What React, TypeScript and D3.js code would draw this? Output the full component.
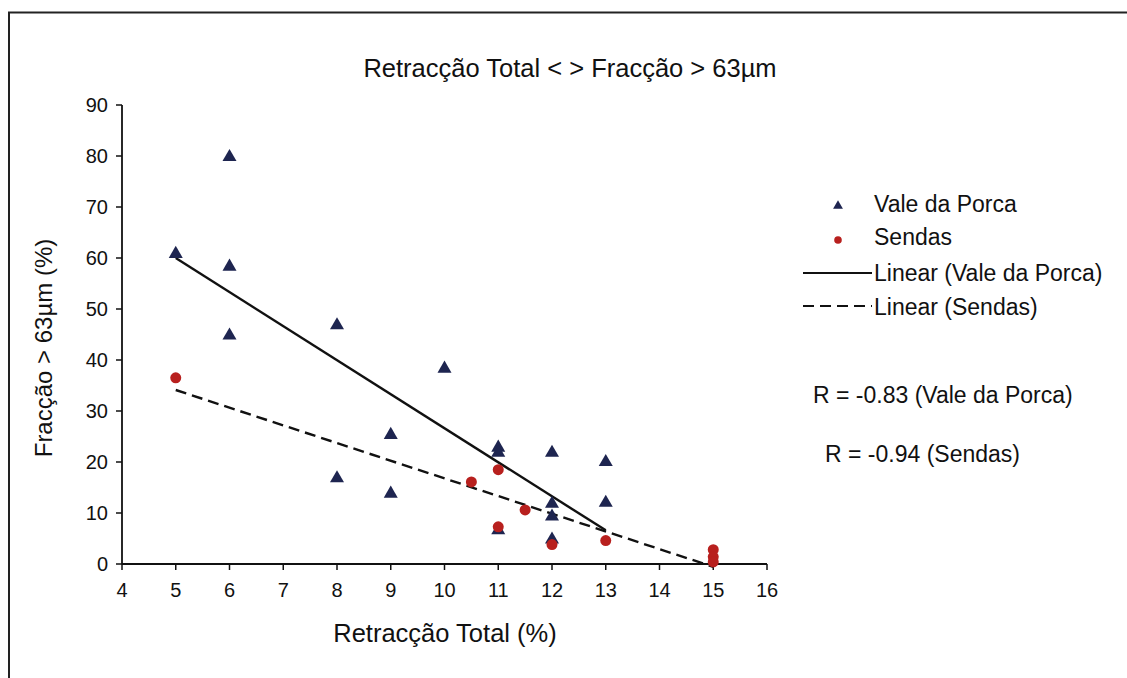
import { useMemo } from 'react';
import * as d3 from 'd3';

const WIDTH = 1127;
const HEIGHT = 678;
const MARGIN = { top: 105, left: 122 };

// Vale da Porca (triangles)
const valeX = [5, 6, 6, 6, 8, 8, 9, 9, 10, 11, 11, 11, 12, 12, 12, 12, 13, 13];
const valeY = [61, 80, 58.5, 45, 47, 17, 25.5, 14, 38.5, 23, 22, 6.8, 22, 12, 9.5, 5, 20.2, 12.2];

// Sendas (circles)
const sendasX = [5, 10.5, 11, 11, 11.5, 12, 13, 15, 15, 15];
const sendasY = [36.5, 16.1, 18.5, 7.3, 10.6, 3.8, 4.6, 2.8, 1.4, 0.4];

const xTicks = [4, 5, 6, 7, 8, 9, 10, 11, 12, 13, 14, 15, 16];
const yTicks = [0, 10, 20, 30, 40, 50, 60, 70, 80, 90];

const TITLE = 'Retracção Total < > Fracção > 63µm';
const X_LABEL = 'Retracção Total (%)';
const Y_LABEL = 'Fracção > 63µm (%)';
const legendLabels = ['Vale da Porca', 'Sendas', 'Linear (Vale da Porca)', 'Linear (Sendas)'];
const rLabels = ['R = -0.83 (Vale da Porca)', 'R = -0.94 (Sendas)'];

const NAVY = '#1e2550';
const RED = '#b8201e';
const FONT = 'Liberation Sans, Arial, sans-serif';

// least squares fit, returns the two end points of the trend line
const fitLine = (xs: number[], ys: number[]) => {
  const mx = d3.mean(xs) || 0;
  const my = d3.mean(ys) || 0;
  const sxy = d3.sum(xs, (x, i) => (x - mx) * (ys[i] - my));
  const sxx = d3.sum(xs, (x) => (x - mx) ** 2);
  const slope = sxy / sxx;
  const [x0, x1] = d3.extent(xs) as [number, number];
  return [
    { x: x0, y: my + slope * (x0 - mx) },
    { x: x1, y: my + slope * (x1 - mx) },
  ];
};

export default function App() {
  const xScale = useMemo(() => d3.scaleLinear().domain([4, 16]).range([0, 645]), []);
  const yScale = useMemo(() => d3.scaleLinear().domain([0, 90]).range([459, 0]), []);

  const lineBuilder = d3
    .line<{ x: number; y: number }>()
    .x((d) => xScale(d.x))
    .y((d) => yScale(d.y));

  const valeFit = lineBuilder(fitLine(valeX, valeY)) || '';
  const sendasFit = lineBuilder(fitLine(sendasX, sendasY)) || '';

  const triangle = d3.symbol(d3.symbolTriangle, 85)() || '';
  const triangleSmall = d3.symbol(d3.symbolTriangle, 42)() || '';

  const axisBottom = yScale(0);

  return (
    <svg width={WIDTH} height={HEIGHT} style={{ position: 'absolute', left: 0, top: 0, background: '#fff' }} fontFamily={FONT}>
      {/* frame */}
      <rect x={9} y={12.5} width={WIDTH + 20} height={HEIGHT + 20} fill="none" stroke="#222" strokeWidth={2} />

      <text x={570} y={77} textAnchor="middle" fontSize={25.5} fill="#111">
        {TITLE}
      </text>

      <g transform={`translate(${MARGIN.left},${MARGIN.top})`}>
        {/* axes */}
        <line x1={0} x2={0} y1={0} y2={axisBottom} stroke="#111" strokeWidth={1.8} />
        <line x1={0} x2={645} y1={axisBottom} y2={axisBottom} stroke="#111" strokeWidth={1.8} />
        {yTicks.map((t) => (
          <g key={'y' + t} transform={`translate(0,${yScale(t)})`}>
            <line x1={-6} x2={0} stroke="#111" strokeWidth={1.5} />
            <text x={-14} dy="0.36em" textAnchor="end" fontSize={20} fill="#111">
              {t}
            </text>
          </g>
        ))}
        {xTicks.map((t) => (
          <g key={'x' + t} transform={`translate(${xScale(t)},${axisBottom})`}>
            <line y1={0} y2={6} stroke="#111" strokeWidth={1.5} />
            <text y={33} textAnchor="middle" fontSize={20} fill="#111">
              {t}
            </text>
          </g>
        ))}

        {/* trend lines */}
        <path d={valeFit} stroke="#111" strokeWidth={2.4} fill="none" />
        <path d={sendasFit} stroke="#111" strokeWidth={2.4} fill="none" strokeDasharray="11,6" />

        {/* points */}
        {valeX.map((x, i) => (
          <path key={'v' + i} d={triangle} transform={`translate(${xScale(x)},${yScale(valeY[i]) + 1})`} fill={NAVY} />
        ))}
        {sendasX.map((x, i) => (
          <circle key={'s' + i} cx={xScale(x)} cy={yScale(sendasY[i])} r={5.5} fill={RED} />
        ))}
      </g>

      <text x={445} y={642} textAnchor="middle" fontSize={25.5} fill="#111">
        {X_LABEL}
      </text>
      <text transform="translate(52,348) rotate(-90)" textAnchor="middle" fontSize={24} fill="#111">
        {Y_LABEL}
      </text>

      {/* legend */}
      <g fontSize={23} fill="#111">
        <path d={triangleSmall} transform="translate(838,206)" fill={NAVY} />
        <text x={874} y={212}>{legendLabels[0]}</text>
        <circle cx={838} cy={240} r={3.8} fill={RED} />
        <text x={874} y={245}>{legendLabels[1]}</text>
        <line x1={803} x2={872} y1={273} y2={273} stroke="#111" strokeWidth={1.8} />
        <text x={874} y={281}>{legendLabels[2]}</text>
        <line x1={803} x2={872} y1={306} y2={306} stroke="#111" strokeWidth={1.8} strokeDasharray="11,6" />
        <text x={874} y={315}>{legendLabels[3]}</text>
        <text x={813} y={403}>{rLabels[0]}</text>
        <text x={825} y={462}>{rLabels[1]}</text>
      </g>
    </svg>
  );
}
